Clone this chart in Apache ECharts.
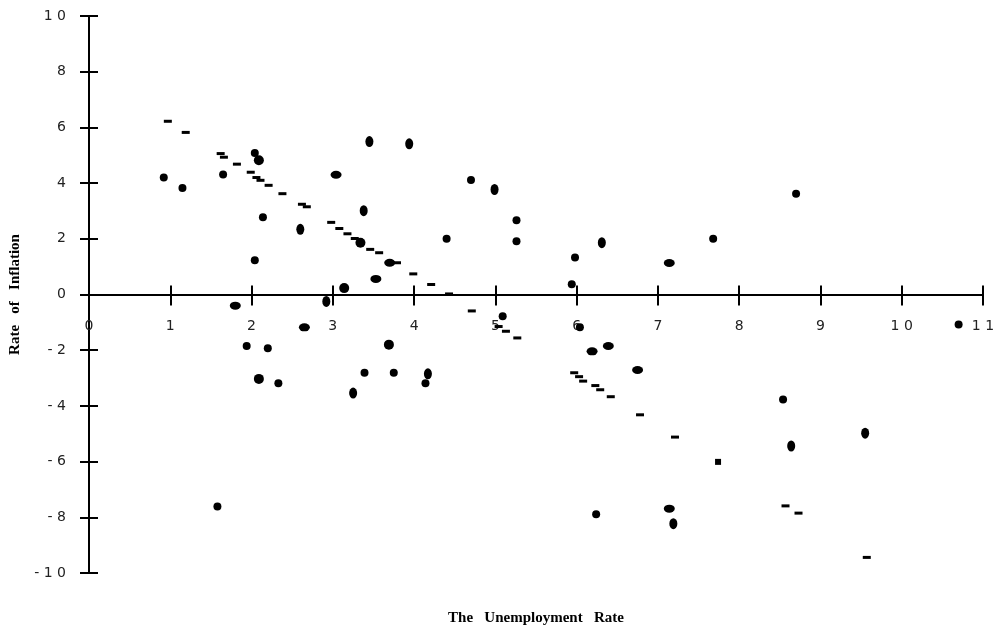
<!DOCTYPE html>
<html>
<head>
<meta charset="utf-8">
<script src="https://cdn.jsdelivr.net/npm/echarts@6/dist/echarts.min.js"></script>
<style>html,body{margin:0;padding:0;background:#fff}#c{width:996px;height:634px}</style>
</head>
<body>
<div id="c"></div>
<script>
// ---- data (unemployment rate, inflation rate) ----
const xTitle = 'The   Unemployment   Rate';
const yTitle = 'Rate   of   Inflation';
const xMin = 0, xMax = 11, xStep = 1;
const yMin = -10, yMax = 10, yStep = 2;

const dashPoints = [
  [0.97,6.22],[1.19,5.82],[1.62,5.06],[1.66,4.93],[1.82,4.68],[1.99,4.39],[2.06,4.20],[2.11,4.10],
  [2.21,3.92],[2.38,3.62],[2.62,3.24],[2.68,3.15],[2.98,2.59],[3.08,2.37],[3.18,2.18],[3.27,2.01],
  [3.46,1.62],[3.57,1.50],[3.79,1.14],[3.99,0.74],[4.21,0.36],[4.43,0.02],[4.71,-0.59],[5.04,-1.15],
  [5.13,-1.32],[5.27,-1.56],[5.97,-2.81],[6.03,-2.95],[6.08,-3.11],[6.23,-3.27],[6.29,-3.42],[6.42,-3.67],
  [6.78,-4.32],[7.21,-5.12],[8.57,-7.59],[8.73,-7.85],[9.57,-9.44]
];
const squarePoints = [[7.74,-6.01]];
const smallDots = [
  [0.92,4.20],[1.15,3.82],[1.65,4.31],[2.04,5.08],[2.14,2.77],[2.04,1.23],[4.70,4.11],[5.26,2.67],
  [5.26,1.91],[4.40,2.00],[5.98,1.33],[5.94,0.37],[7.68,2.00],[8.70,3.62],[1.94,-1.85],[2.20,-1.93],
  [2.33,-3.19],[3.39,-2.81],[3.75,-2.81],[4.14,-3.19],[5.09,-0.78],[6.04,-1.18],[8.54,-3.77],[6.24,-7.89],
  [10.70,-1.08],[1.58,-7.61]
];
const bigDots = [[2.09,4.82],[3.34,1.86],[3.14,0.23],[2.09,-3.03],[3.69,-1.80]];
const wideOvals = [
  [3.04,4.30],[3.70,1.14],[3.53,0.56],[7.14,1.13],[1.80,-0.40],[2.65,-1.18],[6.19,-2.04],[6.39,-1.85],
  [6.75,-2.71],[7.14,-7.69]
];
const tallOvals = [
  [3.45,5.49],[3.94,5.41],[3.38,3.01],[2.60,2.34],[4.99,3.77],[6.31,1.86],[4.17,-2.85],[3.25,-3.54],
  [9.55,-4.98],[8.64,-5.44],[7.19,-8.23],[2.92,-0.25]
];

const spaced = v => String(v).split('').join(' ');
const tickFont = { fontFamily: 'DejaVu Sans', fontSize: 14, color: '#222' };
const lineStyle = { color: '#000', width: 2 };
const titleFont = { fontFamily: 'Liberation Serif', fontWeight: 'bold', color: '#000', fontSize: 15 };
const hidden = { show: false };
const L = 89, R = 13, T = 16, B = 61, H = 634;
const zeroY = T + (H - T - B) * (yMax / (yMax - yMin));   // pixel row of y = 0 (layout only)

const base = { type: 'value', min: xMin, max: xMax, interval: xStep, splitLine: hidden };
const baseY = { type: 'value', min: yMin, max: yMax, interval: yStep, splitLine: hidden };

const chart = echarts.init(document.getElementById('c'));
chart.setOption({
  backgroundColor: '#fff',
  animation: false,
  grid: [
    { left: L, right: R, top: T, bottom: B, containLabel: false, outerBoundsMode: 'none' },
    { left: L, right: R, top: T, bottom: H - zeroY, containLabel: false, outerBoundsMode: 'none' },
    { left: L, right: R, top: zeroY, bottom: B, containLabel: false, outerBoundsMode: 'none' }
  ],
  xAxis: [
    Object.assign({}, base, { gridIndex: 0, show: false }),
    Object.assign({}, base, {
      gridIndex: 1, position: 'bottom',
      axisLine: { show: true, onZero: false, lineStyle },
      axisTick: { show: true, length: 11, lineStyle },
      axisLabel: Object.assign({ margin: 25, formatter: spaced }, tickFont),
      name: xTitle, nameLocation: 'middle', nameGap: 316,
      nameTextStyle: titleFont
    }),
    Object.assign({}, base, {
      gridIndex: 2, position: 'top',
      axisLine: { show: false, onZero: false },
      axisTick: { show: true, length: 9, lineStyle },
      axisLabel: hidden
    })
  ],
  yAxis: [
    Object.assign({}, baseY, {
      gridIndex: 0, position: 'left',
      axisLine: { show: true, onZero: false, lineStyle },
      axisTick: { show: true, length: 9, lineStyle },
      axisLabel: Object.assign({ margin: 23, formatter: spaced }, tickFont),
      name: yTitle, nameLocation: 'middle', nameGap: 66,
      nameTextStyle: titleFont
    }),
    Object.assign({}, baseY, {
      gridIndex: 0, position: 'left',
      axisLine: { show: false, onZero: false },
      axisTick: { show: true, inside: true, length: 9, lineStyle },
      axisLabel: hidden
    }),
    Object.assign({}, baseY, { gridIndex: 1, show: false }),
    Object.assign({}, baseY, { gridIndex: 2, show: false })
  ],
  series: [
    ['rect', [8, 3], dashPoints],
    ['rect', [6, 6], squarePoints],
    ['circle', 8, smallDots],
    ['circle', 10, bigDots],
    ['circle', [11, 8], wideOvals],
    ['circle', [8, 11], tallOvals]
  ].map(([symbol, size, data]) => ({
    type: 'scatter', xAxisIndex: 0, yAxisIndex: 0, data, symbol, symbolSize: size,
    itemStyle: { color: '#000', opacity: 1 }, silent: true
  }))
});
</script>
</body>
</html>
